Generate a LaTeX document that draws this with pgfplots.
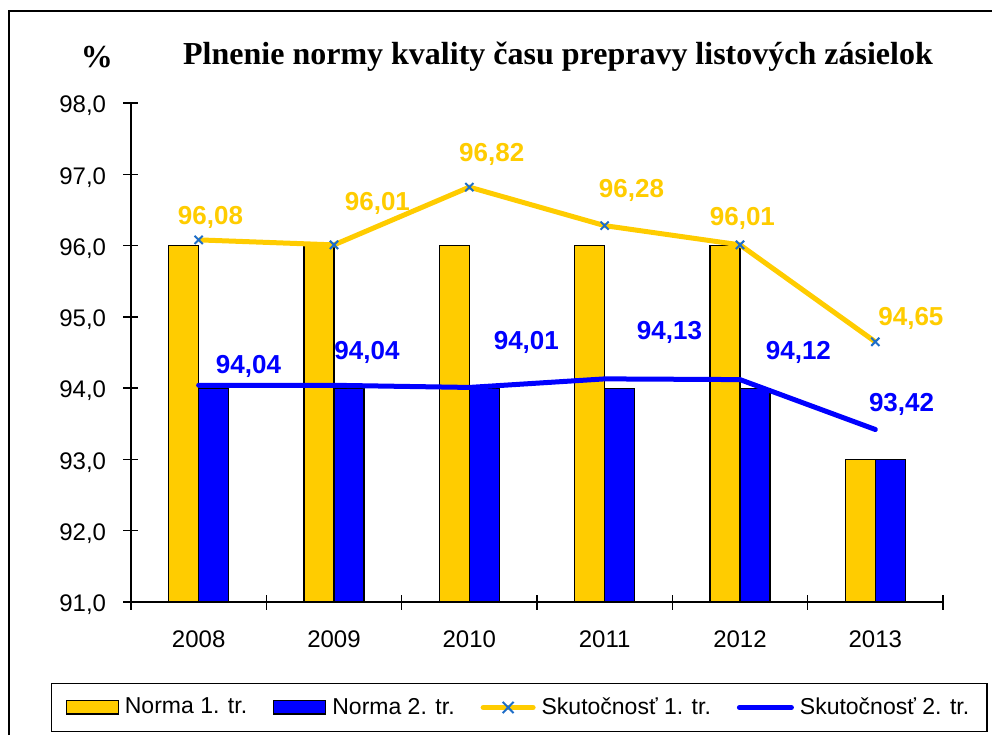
\documentclass[border=0pt]{standalone}
\usepackage{pgfplots}
\pgfplotsset{compat=1.18}
\usepackage{pgfplotstable}
\usepackage{fontspec}
\setmainfont{Liberation Sans}
\newfontfamily\timesfont{Liberation Serif}

\definecolor{zlta}{RGB}{255,204,0}
\definecolor{modra}{RGB}{0,0,255}
\definecolor{krizik}{RGB}{30,110,200}

\pgfplotsset{
  barlegA/.style={legend image code/.code={\draw[fill=zlta, draw=black, line width=0.6pt] (0pt,-3.3pt) rectangle (26pt,3.3pt);}},
  barlegB/.style={legend image code/.code={\draw[fill=modra, draw=black, line width=0.6pt] (0pt,-3.3pt) rectangle (26pt,3.3pt);}},
  lineleA/.style={legend image code/.code={%
    \draw[zlta, line width=2.5pt, line cap=round] (1.25pt,0pt) -- (26.25pt,0pt);
    \draw[krizik, line width=1pt] (11pt,-2.8pt) -- (16.5pt,2.8pt) (11pt,2.8pt) -- (16.5pt,-2.8pt);}},
  lineleB/.style={legend image code/.code={\draw[modra, line width=2.5pt, line cap=round] (1.25pt,0pt) -- (27.25pt,0pt);}},
}

% norms (bars)
\pgfplotstableread{
x y
0 96
1 96
2 96
3 96
4 96
5 93
}\normaA
\pgfplotstableread{
x y
0 94
1 94
2 94
3 94
4 94
5 93
}\normaB
% actual values, dx dy = label offset in pt
\pgfplotstableread{
x y dx dy
0 96.08 5.9 11.0
1 96.01 21.7 20.9
2 96.82 11.2 16.5
3 96.28 13.4 17.8
4 96.01 1.2 13.4
5 94.65 17.8 11.9
}\skutA
\pgfplotstableread{
x y dx dy
0 94.04 24.9 9.6
1 94.04 16.5 16.6
2 94.01 28.5 22.7
3 94.13 32.4 23.0
4 94.12 29.2 13.8
5 93.42 13.1 12.7
}\skutB

\begin{document}
\begin{tikzpicture}
\begin{axis}[
    at={(0,0)}, anchor=south west,
    scale only axis,
    width=406pt, height=249.5pt,
    xmin=-0.5, xmax=5.5,
    ymin=91, ymax=98,
    axis x line*=bottom, axis y line*=left,
    axis line style={line width=0.75pt, black},
    tick style={line width=0.75pt, black},
    tick align=center,
    major tick length=7.5pt,
    xtick={-0.5,0.5,...,5.5},
    xticklabels={},
    extra x ticks={0,1,2,3,4,5},
    extra x tick labels={2008,2009,2010,2011,2012,2013},
    extra x tick style={major tick length=0pt},
    ytick={91,92,...,98},
    /pgf/number format/assume math mode=true,
    yticklabel style={/pgf/number format/fixed, /pgf/number format/fixed zerofill,
        /pgf/number format/precision=1, /pgf/number format/use comma},
    tick label style={font=\fontsize{12}{14}\selectfont, inner sep=0pt},
    yticklabel style={anchor=east, xshift=-8.5pt, yshift=-1.5pt},
    xticklabel style={anchor=center, yshift=-18.5pt},
    legend style={at={(axis description cs:0.4784,-0.2114)}, anchor=center,
        draw=black, line width=0.75pt, legend columns=4,
        font=\fontsize{11.5}{13}\selectfont,
        inner xsep=7pt, inner ysep=5pt,
        /tikz/every even column/.append style={column sep=11pt},
        /tikz/every odd column/.append style={column sep=1pt}},
    legend cell align=left,
]
\addplot[ybar, bar width=15pt, bar shift=-7.5pt, fill=zlta, draw=black, line width=0.6pt, barlegA]
    table[x=x, y=y] {\normaA};
\addlegendentry{Norma 1. tr.}
\addplot[ybar, bar width=15pt, bar shift=7.5pt, fill=modra, draw=black, line width=0.6pt, barlegB]
    table[x=x, y=y] {\normaB};
\addlegendentry{Norma 2. tr.}
\addplot[zlta, line width=2.5pt, mark=x, mark size=2.9pt,
    mark options={krizik, line width=1pt},
    point meta=y,
    nodes near coords={\pgfmathprintnumber[fixed, fixed zerofill, precision=2, use comma, assume math mode=true]{\pgfplotspointmeta}},
    visualization depends on={\thisrow{dx} \as \lblx},
    visualization depends on={\thisrow{dy} \as \lbly},
    nodes near coords style={anchor=center, xshift=\lblx*1pt, yshift=\lbly*1pt,
        font=\fontsize{13}{15}\selectfont\bfseries, text=zlta},
    lineleA]
    table[x=x, y=y] {\skutA};
\addlegendentry{Skutočnosť 1. tr.}
\addplot[modra, line width=2.5pt, line cap=round, mark=none,
    point meta=y,
    nodes near coords={\pgfmathprintnumber[fixed, fixed zerofill, precision=2, use comma, assume math mode=true]{\pgfplotspointmeta}},
    visualization depends on={\thisrow{dx} \as \lblx},
    visualization depends on={\thisrow{dy} \as \lbly},
    nodes near coords style={anchor=center, xshift=\lblx*1pt, yshift=\lbly*1pt,
        font=\fontsize{13}{15}\selectfont\bfseries, text=modra},
    lineleB]
    table[x=x, y=y] {\skutB};
\addlegendentry{Skutočnosť 2. tr.}
\end{axis}
% page = 992 x 735 px at 0.5pt per px, origin at the axis corner
\useasboundingbox (-65.5pt,-66.5pt) rectangle (430.5pt,301pt);
\draw[line width=0.75pt, black] (-61pt,-66.5pt) -- (-61pt,295.5pt) -- (430.5pt,295.5pt);
\node[font=\timesfont\fontsize{16}{18}\selectfont\bfseries, anchor=center] at (213.5pt,272.5pt)
    {Plnenie normy kvality času prepravy listových zásielok};
\node[font=\timesfont\fontsize{16}{18}\selectfont\bfseries, anchor=center] at (-17pt,272.5pt) {\%};
\end{tikzpicture}
\end{document}
